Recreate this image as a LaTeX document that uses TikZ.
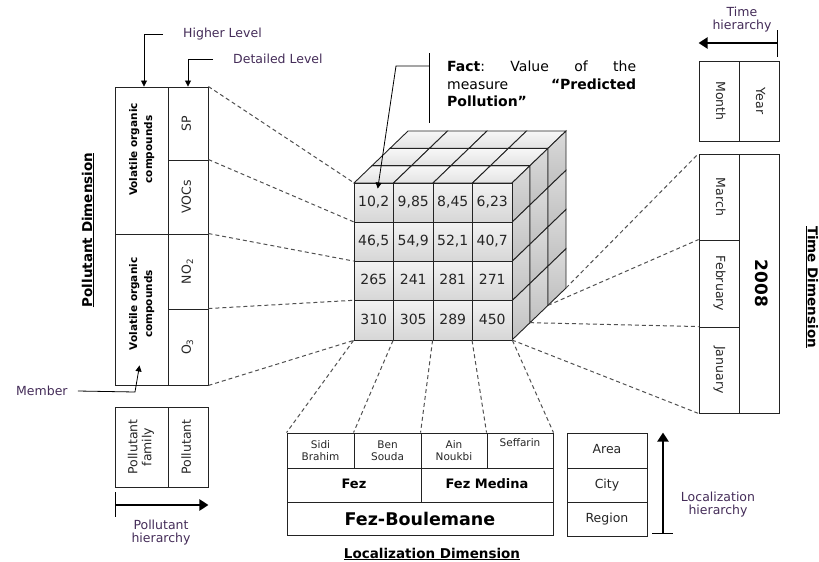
\documentclass[tikz,border=0pt]{standalone}
\usepackage{fontspec}
\setmainfont{DejaVu Sans}
\usetikzlibrary{arrows.meta, positioning, calc}

\definecolor{labelcol}{RGB}{68,44,88}
\definecolor{edgecol}{RGB}{35,35,35}
\definecolor{dashcol}{RGB}{80,80,80}

\newcommand{\rottext}[3][0pt]{\rotatebox{#2}{\hspace{#1}\begin{tabular}{@{}c@{}}#3\end{tabular}}}

\begin{document}
\begin{tikzpicture}[
  x=1pt, y=-1pt,
  wh/.style 2 args={minimum width=#1pt, minimum height=#2pt},
  cell/.style={draw=edgecol, line width=0.9pt, inner sep=0pt, font=\fontsize{12.5}{14}\selectfont, text=black!85},
  family/.style={font=\fontsize{10.5}{15}\selectfont\bfseries, text=black},
  city/.style={font=\fontsize{13}{15}\selectfont\bfseries, text=black},
  placetxt/.style={font=\fontsize{10.5}{12}\selectfont, align=center},
  lbl/.style={font=\fontsize{12.5}{13}\selectfont, text=labelcol, align=center, inner sep=0pt},
  dimtitle/.style={font=\fontsize{13.5}{16}\selectfont\bfseries, inner sep=0pt},
  pointer/.style={-{Triangle[length=6pt, width=6pt]}, line width=0.8pt},
  hier/.style={-{Triangle[length=9pt, width=11pt]}, line width=2.6pt},
  tick/.style={line width=0.9pt},
  link/.style={dashcol, line width=1pt, dash pattern=on 4pt off 3pt},
  face/.style={draw=edgecol, line width=0.9pt},
  val/.style={font=\fontsize{14}{16}\selectfont, top color=gray!10, bottom color=gray!32}
]
\useasboundingbox (0,0) rectangle (819,562);

% Pollutant dimension
\node[cell, wh={53}{147}, family] (voc1) at (141.5,160.5) {\rottext[22pt]{90}{Volatile organic\\compounds}};
\node[cell, wh={53}{151}, family] (voc2) at (141.5,309.5) {\rottext[11pt]{90}{Volatile organic\\compounds}};
\node[cell, wh={40}{73}] (sp) at (188,123.5) {\rottext{90}{SP}};
\node[cell, wh={40}{74}] (vocs) at (188,197) {\rottext{90}{VOCs}};
\node[cell, wh={40}{75}] (no2) at (188,271.5) {\rottext{90}{NO\textsubscript{2}}};
\node[cell, wh={40}{76}] (o3) at (188,347) {\rottext{90}{O\textsubscript{3}}};
\node[dimtitle, rotate=90] (poltitle) at (88,230) {\underline{Pollutant Dimension}};

% Level pointers
\node[lbl, anchor=west] (higher) at (183,34) {Higher Level};
\node[lbl, anchor=west] (detail) at (233,59) {Detailed Level};
\node[lbl, anchor=west] (member) at (16,391) {Member};
\draw[pointer] ($(higher.west)+(-20,0)$) -| ($(voc1.north)+(2.5,0)$);
\draw[pointer] ($(detail.west)+(-20,0)$) -| (sp.north);
\coordinate (member-bend) at (135,392);
\draw[pointer] ($(member.east)+(10,0)$) -- (member-bend) -- ($(voc2.south)+(-2,-20)$);

% Pollutant hierarchy
\node[cell, wh={53}{80}] (pfamily) at (141.5,447) {\rottext{90}{Pollutant\\family}};
\node[cell, wh={40}{80}] (pollutant) at (188,447) {\rottext{90}{Pollutant}};
\coordinate (ph-start) at (115,505);
\draw[tick] ($(ph-start)+(0,-13)$) -- ($(ph-start)+(0,12)$);
\draw[hier] (ph-start) -- (ph-start -| pollutant.east);
\node[lbl] (phlabel) at (161,533) {Pollutant\\hierarchy};

% Data cube
\def\cw{39.5}\def\ch{39.25}\def\dx{18}\def\dy{17.33}
\foreach \k in {0,1,2}
  \foreach \c in {0,...,3}
    \shadedraw[face, top color=gray!6, bottom color=gray!22] ({354+\c*\cw+\k*\dx},{183-\k*\dy}) -- ++(\cw,0) -- ++(\dx,-\dy) -- ++(-\cw,0) -- cycle;
\foreach \k in {0,1,2}
  \foreach \r in {0,...,3}
    \shadedraw[face, top color=gray!28, bottom color=gray!50] ({512+\k*\dx},{183+\r*\ch-\k*\dy}) -- ++(\dx,-\dy) -- ++(0,\ch) -- ++(-\dx,\dy) -- cycle;
\foreach \v [count=\c] in {10{,}2, 9{,}85, 8{,}45, 6{,}23}
  \node[cell, wh={\cw}{\ch}, val] (f-1-\c) at ({354+(\c-0.5)*\cw},{183+0.5*\ch}) {\raisebox{3pt}{\v}};
\foreach \v [count=\c] in {46{,}5, 54{,}9, 52{,}1, 40{,}7}
  \node[cell, wh={\cw}{\ch}, val] (f-2-\c) at ({354+(\c-0.5)*\cw},{183+1.5*\ch}) {\raisebox{3pt}{\v}};
\foreach \v [count=\c] in {265, 241, 281, 271}
  \node[cell, wh={\cw}{\ch}, val] (f-3-\c) at ({354+(\c-0.5)*\cw},{183+2.5*\ch}) {\raisebox{3pt}{\v}};
\foreach \v [count=\c] in {310, 305, 289, 450}
  \node[cell, wh={\cw}{\ch}, val] (f-4-\c) at ({354+(\c-0.5)*\cw},{183+3.5*\ch}) {\raisebox{3pt}{\v}};
\foreach \k in {0,...,3}
  \coordinate (rb-\k) at ({512+\k*\dx},{340-\k*\dy});

% Fact
\node[anchor=north west, text width=189pt, inner sep=0pt, align=left, font=\fontsize{14}{17.5}\selectfont] (fact) at (447,61)
  {\textbf{Fact}:\hfill Value\hfill of\hfill the\\ measure\hfill \textbf{“Predicted}\\ \textbf{Pollution”}};
\coordinate (fact-bar) at (429,66);
\draw[tick] ($(fact-bar)+(0,-13)$) -- ($(fact-bar)+(0,57)$);
\draw[pointer] (fact-bar) -- ($(fact-bar)+(-33,0)$) -- ($(f-1-1.north)+(4,6)$);

% Time dimension
\node[lbl] (thlabel) at (742,19.5) {Time\\hierarchy};
\node[cell, wh={40}{80}] (month) at (719,101) {\rottext{-90}{Month}};
\node[cell, wh={40}{80}] (year) at (759,101) {\rottext{-90}{Year}};
\coordinate (th-start) at (777,43);
\draw[tick] ($(th-start)+(0,-13)$) -- ($(th-start)+(0,14)$);
\draw[hier] (th-start) -- (th-start -| month.west);
\node[cell, wh={40}{86}] (march) at (719,197) {\rottext{-90}{March}};
\node[cell, wh={40}{87}] (february) at (719,283.5) {\rottext{-90}{February}};
\node[cell, wh={40}{86}] (january) at (719,370) {\rottext{-90}{January}};
\node[cell, wh={40}{259}, font=\fontsize{17}{20}\selectfont\bfseries, text=black] (y2008) at (759,283.5) {\rottext{-90}{2008}};
\node[dimtitle, rotate=-90] (timetitle) at (812,287) {\underline{Time Dimension}};

% Localization dimension
\node[cell, wh={67}{35}, placetxt] (sidi) at (320.5,450.5) {Sidi\\Brahim};
\node[cell, wh={67}{35}, placetxt] (ben) at (387.5,450.5) {Ben\\Souda};
\node[cell, wh={66}{35}, placetxt] (ain) at (454,450.5) {Ain\\Noukbi};
\node[cell, wh={66}{35}, placetxt] (seff) at (520,450.5) {Seffarin\\\strut};
\node[cell, wh={134}{34}, city] (fez) at (354,485) {\raisebox{3pt}{Fez}};
\node[cell, wh={132}{34}, city] (medina) at (487,485) {\raisebox{3pt}{Fez Medina}};
\node[cell, wh={266}{33}, font=\fontsize{17.5}{20}\selectfont\bfseries, text=black] (boul) at (420,518.5) {Fez-Boulemane};
\node[dimtitle] (loctitle) at (432,554) {\underline{Localization Dimension}};

% Localization hierarchy
\node[cell, wh={80}{35}] (larea) at (607,450.5) {\raisebox{3pt}{Area}};
\node[cell, wh={80}{34}] (lcity) at (607,485) {\raisebox{3pt}{City}};
\node[cell, wh={80}{34}] (lregion) at (607,519) {\raisebox{3pt}{Region}};
\coordinate (lh-start) at (663,533);
\draw[tick] ($(lh-start)+(-11,0)$) -- ($(lh-start)+(10,0)$);
\draw[hier] (lh-start) -- (lh-start |- larea.north);
\node[lbl] (lhlabel) at (718,505) {Localization\\hierarchy};

% Links to the cube
\draw[link] (sp.north east) -- (f-1-1.north west);
\draw[link] (vocs.north east) -- (f-2-1.north west);
\draw[link] (no2.north east) -- (f-3-1.north west);
\draw[link] (o3.north east) -- (f-4-1.north west);
\draw[link] (o3.south east) -- (f-4-1.south west);
\draw[link] (f-4-1.south west) -- (sidi.north west);
\draw[link] (f-4-2.south west) -- (ben.north west);
\draw[link] (f-4-3.south west) -- (ain.north west);
\draw[link] (f-4-4.south west) -- (seff.north west);
\draw[link] (f-4-4.south east) -- (seff.north east);
\draw[link] (rb-3) -- (march.north west);
\draw[link] (rb-2) -- (february.north west);
\draw[link] (rb-1) -- (january.north west);
\draw[link] (rb-0) -- (january.south west);

\end{tikzpicture}
\end{document}
